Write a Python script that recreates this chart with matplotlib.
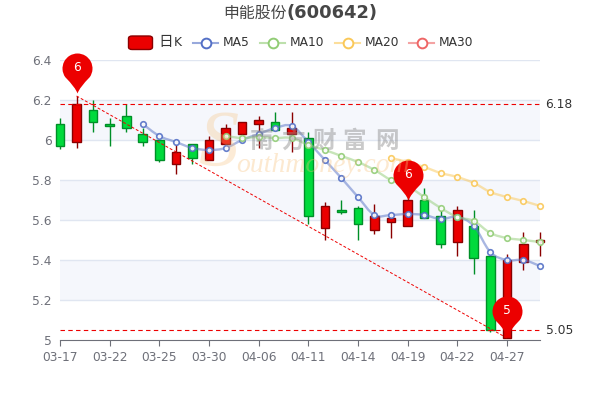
import matplotlib
matplotlib.use('Agg')
import matplotlib.pyplot as plt
import numpy as np
from matplotlib.path import Path
from matplotlib.patches import PathPatch, FancyBboxPatch, Rectangle
from matplotlib.lines import Line2D

# K线数据
opens = [6.08, 5.99, 6.15, 6.08, 6.12, 6.03, 6.00, 5.88, 5.98, 5.90, 5.98, 6.03, 6.08, 6.09, 6.03,
         6.01, 5.56, 5.65, 5.66, 5.55, 5.59, 5.57, 5.70, 5.62, 5.49, 5.57, 5.42, 5.01, 5.39, 5.49]
closes = [5.97, 6.18, 6.09, 6.07, 6.06, 5.99, 5.90, 5.94, 5.91, 6.00, 6.06, 6.09, 6.10, 6.05, 6.06,
          5.62, 5.67, 5.64, 5.58, 5.62, 5.61, 5.70, 5.61, 5.48, 5.65, 5.41, 5.05, 5.40, 5.48, 5.50]
lows = [5.955, 5.96, 6.04, 5.97, 6.04, 5.97, 5.89, 5.83, 5.88, 5.90, 5.98, 6.03, 5.96, 6.05, 5.94,
        5.58, 5.50, 5.63, 5.50, 5.53, 5.51, 5.57, 5.61, 5.46, 5.42, 5.33, 5.04, 5.01, 5.35, 5.42]
highs = [6.11, 6.22, 6.20, 6.11, 6.18, 6.06, 6.00, 5.98, 5.98, 6.02, 6.08, 6.09, 6.12, 6.14, 6.14,
         6.04, 5.69, 5.70, 5.67, 5.68, 5.63, 5.72, 5.76, 5.65, 5.67, 5.65, 5.42, 5.43, 5.54, 5.54]

# 均线数据
ma5 = [6.08, 6.02, 5.99, 5.96, 5.95, 5.96, 6.00, 6.03, 6.06, 6.07, 5.99, 5.90, 5.81, 5.715, 5.625,
       5.625, 5.63, 5.625, 5.605, 5.615, 5.57, 5.44, 5.40, 5.40, 5.37]
ma10 = [6.02, 6.01, 6.015, 6.01, 6.01, 5.975, 5.95, 5.92, 5.89, 5.85, 5.80, 5.77, 5.715, 5.66, 5.615,
        5.595, 5.535, 5.51, 5.50, 5.49]
ma20 = [5.91, 5.89, 5.865, 5.835, 5.815, 5.785, 5.74, 5.715, 5.695, 5.67]

dates = ['03-17', '03-22', '03-25', '03-30', '04-06', '04-11', '04-14', '04-19', '04-22', '04-27']
y_ticks = [5, 5.2, 5.4, 5.6, 5.8, 6, 6.2, 6.4]
y_labels = ['5', '5.2', '5.4', '5.6', '5.8', '6', '6.2', '6.4']

ref_levels = [6.18, 5.05]
ref_labels = ['6.18', '5.05']
# 标记点：K线序号，高度，数字
pin_index = [1, 21, 27]
pin_values = [6.235, 5.70, 5.02]
pin_labels = ['6', '6', '5']
trend_index = [1, 27]
trend_values = [6.22, 5.01]

W, H = 600, 400
gray = '#6E7079'
up_color, up_border = '#EB0000', '#8A0000'
down_color, down_border = '#00DA3C', '#008F28'
cjk = ['Noto Sans CJK SC', 'DejaVu Sans']


def fx(px):
    return px / W


def fy(py):
    return 1 - py / H


def smooth_path(xs, ys, k=0.18):
    # 平滑曲线，控制点由相邻数据点决定
    verts = [(xs[0], ys[0])]
    codes = [Path.MOVETO]
    n = len(xs)
    for i in range(n - 1):
        x0, y0 = xs[max(i - 1, 0)], ys[max(i - 1, 0)]
        x3, y3 = xs[min(i + 2, n - 1)], ys[min(i + 2, n - 1)]
        verts.append((xs[i] + (xs[i + 1] - x0) * k, ys[i] + (ys[i + 1] - y0) * k))
        verts.append((xs[i + 1] - (x3 - xs[i]) * k, ys[i + 1] - (y3 - ys[i]) * k))
        verts.append((xs[i + 1], ys[i + 1]))
        codes += [Path.CURVE4, Path.CURVE4, Path.CURVE4]
    return Path(verts, codes)


def pin_marker():
    # 水滴形标记，尖端在原点
    arc = Path.arc(-35, 215)
    v = arc.vertices * 15 + np.array([0, 25])
    verts = [(0, 0), (2, 6), v[0]] + [tuple(p) for p in v[1:]] + [(-2, 6), (0, 0), (0, 0)]
    codes = [Path.MOVETO, Path.CURVE3, Path.CURVE3] + list(arc.codes[1:]) + [Path.CURVE3, Path.CURVE3, Path.CLOSEPOLY]
    return Path(verts, codes)


fig = plt.figure(figsize=(6, 4), dpi=100)
ax = fig.add_axes([fx(60), fy(340), 480 / W, 280 / H])
ax.set_xlim(0, 29)
ax.set_ylim(5, 6.4)
for s in ['top', 'left', 'right']:
    ax.spines[s].set_visible(False)
ax.spines['bottom'].set_color(gray)
ax.spines['bottom'].set_linewidth(0.8)

# 背景色带和网格
for low_edge in [6.0, 5.6, 5.2]:
    ax.axhspan(low_edge, low_edge + 0.2, color='#F5F7FC', lw=0, zorder=0)
for t in y_ticks[1:]:
    ax.axhline(t, color='#E0E6F1', lw=1, zorder=0.5)

ax.set_yticks(y_ticks)
ax.set_yticklabels(y_labels, color=gray, fontsize=8.8)
ax.tick_params(axis='y', length=0, pad=6)
ax.set_xticks(np.arange(len(dates)) * 3)
ax.set_xticklabels(dates, color=gray, fontsize=8.8)
ax.tick_params(axis='x', length=4, width=0.8, color=gray, pad=4)

# 水印
for ch, px in zip('南方财富网', [262, 293, 324, 354, 387]):
    fig.text(fx(px), fy(141), ch, family=cjk, fontsize=17, fontweight='bold', color='#8A8A8A', alpha=0.45,
             ha='center', va='center', zorder=1)
fig.text(fx(218), fy(146), 'S', family='Liberation Serif', style='italic', fontsize=58, color='#F8C07A', alpha=0.3,
         ha='center', va='center', zorder=1)
fig.text(fx(236), fy(166), 'outhmoney.com', family='Liberation Serif', style='italic', fontsize=20, color='#F8C07A',
         alpha=0.35, ha='left', va='center', zorder=1)

# 蜡烛图
x = np.arange(len(opens))
bar_w = 0.52
for i in x:
    up = closes[i] >= opens[i]
    face = up_color if up else down_color
    edge = up_border if up else down_border
    ax.plot([i, i], [lows[i], highs[i]], color=edge, lw=1, zorder=2, clip_on=False, solid_capstyle='butt')
    bottom = min(opens[i], closes[i])
    ax.add_patch(Rectangle((i - bar_w / 2, bottom), bar_w, abs(closes[i] - opens[i]), facecolor=face, edgecolor=edge,
                           lw=1, zorder=3, clip_on=False))

# 均线
for vals, color in [(ma5, '#5470C6'), (ma10, '#91CC75'), (ma20, '#FAC858')]:
    mx = x[-len(vals):]
    ax.add_patch(PathPatch(smooth_path(list(mx), vals), fill=False, edgecolor=color, lw=1.7, alpha=0.5, zorder=4,
                           clip_on=False))
    ax.plot(mx, vals, ls='none', marker='o', ms=4, mew=1.2, mec=color, mfc='#FFFFFF', alpha=0.9, zorder=5,
            clip_on=False)

# 参考线
for lev, lab in zip(ref_levels, ref_labels):
    ax.axhline(lev, color='#EE0000', lw=0.8, ls=(0, (4, 3)), zorder=6)
    ax.annotate(lab, (1, lev), xycoords=('axes fraction', 'data'), xytext=(4, 0), textcoords='offset points',
                color='#333333', fontsize=8.8, va='center', ha='left', annotation_clip=False)
ax.plot(trend_index, trend_values, color='#EE0000', lw=0.7, ls=(0, (3, 2)), zorder=6, clip_on=False)

# 标记点
pin = pin_marker()
for i, v, lab in zip(pin_index, pin_values, pin_labels):
    ax.plot([i], [v], marker=pin, ms=57.6, mfc='#EC0000', mec='none', ls='none', zorder=7, clip_on=False)
    ax.annotate(lab, (i, v), xytext=(0, 25 * 0.72), textcoords='offset points', color='white', fontsize=8.8,
                ha='center', va='center', zorder=8, annotation_clip=False)

# 标题
fig.text(fx(287), fy(13), '申能股份', family=cjk, fontsize=11.4, color='#464646', ha='right', va='center')
fig.text(fx(287), fy(13), '(600642)', fontsize=12.9, fontweight='bold', color='#464646', ha='left', va='center')

# 图例
fig.add_artist(FancyBboxPatch((fx(128.5), fy(49.5)), 24 / W, 13.5 / H, boxstyle='round,pad=0,rounding_size=0.006',
                              transform=fig.transFigure, facecolor=up_color, edgecolor=up_border, lw=1))
fig.text(fx(158), fy(42), '日', family=cjk, fontsize=10.5, color='#333333', ha='left', va='center')
fig.text(fx(174), fy(42.5), 'K', fontsize=8.8, color='#333333', ha='left', va='center')
legend_items = [('MA5', '#5470C6', 193), ('MA10', '#91CC75', 260), ('MA20', '#FAC858', 335), ('MA30', '#EE6666', 409)]
for name, color, px in legend_items:
    fig.add_artist(Line2D([fx(px), fx(px + 25)], [fy(42.5), fy(42.5)], transform=fig.transFigure, color=color, lw=1.5,
                          alpha=0.6))
    fig.add_artist(Line2D([fx(px + 12.5)], [fy(42.5)], transform=fig.transFigure, marker='o', ms=7, mew=1.4, mec=color,
                          mfc='white', ls='none'))
    fig.text(fx(px + 30), fy(42.5), name, fontsize=8.8, color='#333333', ha='left', va='center')

plt.savefig('out.png', dpi=100)
